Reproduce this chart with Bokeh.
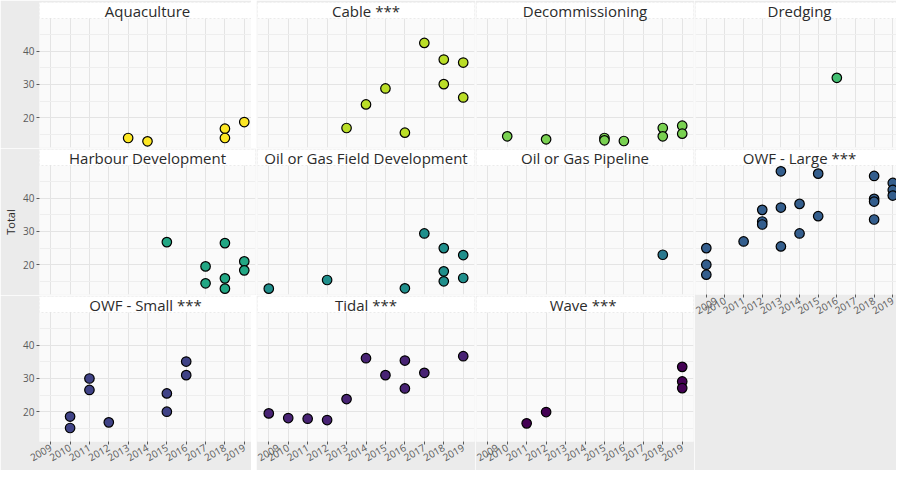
import math
from bokeh.plotting import figure
from bokeh.layouts import row, column
from bokeh.models import BoxAnnotation, Label, FixedTicker, Range1d, Grid
from bokeh.palettes import viridis
from bokeh.embed import file_html
from bokeh.resources import INLINE

FONT = "Open Sans"

# ---- data ----
CATEGORIES = ["Aquaculture", "Cable", "Decommissioning", "Dredging",
              "Harbour Development", "Oil or Gas Field Development",
              "Oil or Gas Pipeline", "OWF - Large", "OWF - Small", "Tidal", "Wave"]
STRIP_LABELS = ["Aquaculture", "Cable ***", "Decommissioning", "Dredging",
                "Harbour Development", "Oil or Gas Field Development",
                "Oil or Gas Pipeline", "OWF - Large ***", "OWF - Small  ***",
                "Tidal ***", "Wave  ***"]

aqua_year = [2013, 2014, 2018, 2018, 2019]
aqua_total = [13.9, 12.9, 16.7, 13.9, 18.7]

cable_year = [2013, 2014, 2015, 2016, 2017, 2018, 2018, 2019, 2019]
cable_total = [16.9, 24.0, 28.8, 15.5, 42.5, 37.5, 30.1, 36.6, 26.1]

decom_year = [2010, 2012, 2015, 2015, 2016, 2018, 2018, 2019, 2019]
decom_total = [14.4, 13.5, 13.9, 13.2, 13.0, 16.9, 14.4, 17.6, 15.2]

dredg_year = [2016]
dredg_total = [32.0]

harb_year = [2015, 2017, 2017, 2018, 2018, 2018, 2019, 2019]
harb_total = [26.8, 19.5, 14.4, 26.5, 15.9, 12.8, 21.0, 18.3]

ogfield_year = [2009, 2012, 2016, 2017, 2018, 2018, 2018, 2019, 2019]
ogfield_total = [12.8, 15.4, 12.9, 29.4, 25.0, 18.0, 15.0, 22.9, 16.0]

ogpipe_year = [2018]
ogpipe_total = [23.0]

owfl_year = [2009, 2009, 2009, 2011, 2012, 2012, 2012, 2013, 2013, 2013,
             2014, 2014, 2015, 2015, 2018, 2018, 2018, 2018, 2019, 2019, 2019]
owfl_total = [25.0, 20.0, 17.0, 27.0, 36.5, 33.0, 32.1, 48.1, 37.2, 25.5,
              38.3, 29.4, 47.4, 34.6, 46.7, 39.8, 39.0, 33.6, 44.6, 42.5, 40.8]

owfs_year = [2010, 2010, 2011, 2011, 2012, 2015, 2015, 2016, 2016]
owfs_total = [18.55, 15.1, 30.0, 26.55, 16.8, 25.5, 20.0, 35.1, 31.0]

tidal_year = [2009, 2010, 2011, 2012, 2013, 2014, 2015, 2016, 2016, 2017, 2019]
tidal_total = [19.5, 18.1, 17.9, 17.5, 23.8, 36.1, 31.0, 35.4, 27.0, 31.7, 36.7]

wave_year = [2011, 2012, 2019, 2019, 2019]
wave_total = [16.5, 19.9, 33.5, 29.1, 27.1]

YEARS = [2009, 2010, 2011, 2012, 2013, 2014, 2015, 2016, 2017, 2018, 2019]
Y_TICKS = [20, 30, 40]
Y_MINOR = [15, 25, 35, 45]

SERIES = [(aqua_year, aqua_total), (cable_year, cable_total), (decom_year, decom_total),
          (dredg_year, dredg_total), (harb_year, harb_total), (ogfield_year, ogfield_total),
          (ogpipe_year, ogpipe_total), (owfl_year, owfl_total), (owfs_year, owfs_total),
          (tidal_year, tidal_total), (wave_year, wave_total)]
COLORS = list(reversed(viridis(11)))

# ---- geometry ----
X_LO, X_HI = 2008.42, 2019.58
X_HI_LAST = 2019.2          # right column is cut by the picture edge
Y_LO, Y_TOP = 11.04, 49.85
FH = 145                     # frame height (strip + panel)
STRIP = 16
Y_HI = Y_TOP + STRIP * (Y_TOP - Y_LO) / (FH - STRIP)

BG = "#EBEBEB"
PANEL_BG = "#FAFAFA"
GRID = "#E4E4E4"
GRID_MINOR = "#EEEEEE"
TICK_COLOR = "#5A5A5A"


def make_panel(idx, col, rw, show_x):
    xs, ys = SERIES[idx]
    fw = 216 if col == 0 else (201 if col == 3 else 217)
    x_hi = X_HI_LAST if col == 3 else X_HI
    p = figure(frame_width=fw, frame_height=FH,
               x_range=Range1d(X_LO, x_hi), y_range=Range1d(Y_LO, Y_HI),
               output_backend="svg", toolbar_location=None, title=None,
               x_axis_location="below" if show_x else None,
               y_axis_location="left" if col == 0 else None,
               background_fill_color=PANEL_BG, border_fill_color=BG,
               outline_line_color=None)
    p.min_border_left = 34 if col == 0 else 1
    p.min_border_right = 0 if col == 3 else 1
    p.min_border_top = 2 if rw == 0 else 1
    if show_x and col == 3:
        p.min_border_bottom = 176
    elif show_x:
        p.min_border_bottom = 29
    else:
        p.min_border_bottom = 1

    p.center = [r for r in p.center if not isinstance(r, Grid)]
    p.add_layout(Grid(dimension=0, ticker=FixedTicker(ticks=YEARS),
                      grid_line_color=GRID, grid_line_width=1))
    p.add_layout(Grid(dimension=1, ticker=FixedTicker(ticks=Y_TICKS, minor_ticks=Y_MINOR),
                      grid_line_color=GRID, grid_line_width=1,
                      minor_grid_line_color=GRID_MINOR, minor_grid_line_width=1))

    p.scatter(xs, ys, size=9.5, fill_color=COLORS[idx], line_color="black",
              line_width=1.2)

    p.add_layout(BoxAnnotation(bottom=Y_TOP, fill_color="white", fill_alpha=1.0,
                               line_color="#C4C4C4", line_dash="2 2", line_width=1))
    p.add_layout(Label(x=2014.0, y=(Y_TOP + Y_HI) / 2, text=STRIP_LABELS[idx],
                       text_align="center", text_baseline="middle",
                       text_font=FONT, text_font_size="15px", text_color="#2B2B2B"))

    if col == 0:
        ya = p.yaxis[0]
        ya.ticker = FixedTicker(ticks=Y_TICKS)
        ya.axis_line_color = None
        ya.major_tick_line_color = TICK_COLOR
        ya.major_tick_out = 3
        ya.major_tick_in = 0
        ya.minor_tick_line_color = None
        ya.major_label_standoff = 2
        ya.major_label_text_font = FONT
        ya.major_label_text_font_size = "10px"
        ya.major_label_text_color = TICK_COLOR
        if rw == 1:
            ya.axis_label = "Total"
            ya.axis_label_text_font = FONT
            ya.axis_label_text_font_size = "11px"
            ya.axis_label_text_font_style = "normal"
            ya.axis_label_text_color = "#2B2B2B"
            ya.axis_label_standoff = 2
    if show_x:
        xa = p.xaxis[0]
        xa.ticker = FixedTicker(ticks=YEARS)
        xa.axis_line_color = None
        xa.major_tick_line_color = TICK_COLOR
        xa.major_tick_out = 3
        xa.major_tick_in = 0
        xa.minor_tick_line_color = None
        xa.major_label_standoff = 2
        xa.major_label_orientation = math.pi / 6
        xa.major_label_text_font = FONT
        xa.major_label_text_font_size = "10px"
        xa.major_label_text_color = TICK_COLOR
    return p


columns = []
for col in range(4):
    figs = []
    for rw in range(3):
        idx = rw * 4 + col
        if idx >= len(CATEGORIES):
            continue
        show_x = (rw == 2) or (col == 3 and rw == 1)
        figs.append(make_panel(idx, col, rw, show_x))
    columns.append(column(*figs, spacing=0))

layout = row(*columns, spacing=0)

open("out.html", "w").write(file_html(layout, INLINE))
